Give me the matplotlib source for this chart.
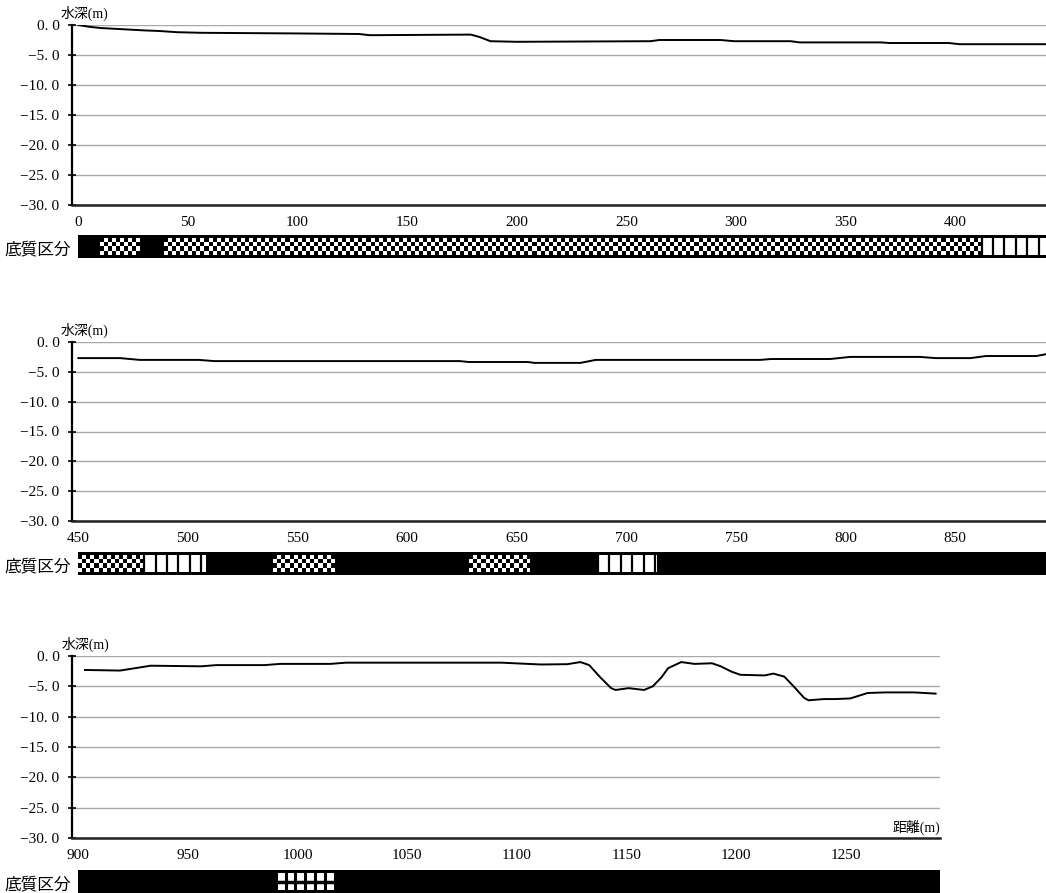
import numpy as np
import matplotlib.pyplot as plt
from matplotlib.patches import Rectangle
from matplotlib.ticker import FuncFormatter, MultipleLocator

plt.rcParams['font.family'] = ['Liberation Serif', 'Noto Sans CJK JP']

# --- profile data (distance m, depth m) ---
dist1 = [0, 5, 10, 20, 30, 37, 45, 56, 97, 128, 133, 179, 183, 188, 200, 261, 265, 293, 299, 325, 329, 366, 370, 397, 402, 442]
depth1 = [0, -0.3, -0.5, -0.7, -0.9, -1.0, -1.2, -1.3, -1.4, -1.5, -1.7, -1.6, -2.0, -2.7, -2.8, -2.7, -2.5, -2.5, -2.7, -2.7, -2.9, -2.9, -3.0, -3.0, -3.2, -3.2]

dist2 = [450, 469, 478, 505, 512, 624, 628, 655, 658, 679, 686, 761, 766, 793, 802, 834, 841, 857, 864, 887, 892]
depth2 = [-2.7, -2.7, -3.0, -3.0, -3.2, -3.2, -3.35, -3.35, -3.5, -3.5, -3.0, -3.0, -2.85, -2.85, -2.5, -2.5, -2.7, -2.7, -2.35, -2.35, -2.0]

dist3 = [903, 919, 926, 933, 956, 963, 985, 992, 1015, 1022, 1093, 1111, 1123, 1129, 1133, 1138, 1143, 1145, 1151, 1158, 1162,
         1166, 1169, 1175, 1181, 1189, 1193, 1198, 1202, 1213, 1217, 1222, 1227, 1231, 1233, 1240, 1245, 1252, 1260, 1268, 1281, 1291]
depth3 = [-2.3, -2.4, -2.0, -1.6, -1.7, -1.5, -1.5, -1.3, -1.3, -1.1, -1.1, -1.4, -1.35, -1.0, -1.5, -3.5, -5.3, -5.6, -5.3, -5.6, -5.0,
          -3.5, -2.0, -1.0, -1.3, -1.2, -1.7, -2.6, -3.1, -3.2, -2.9, -3.4, -5.3, -6.9, -7.3, -7.1, -7.1, -7.0, -6.1, -6.0, -6.0, -6.2]

# --- sediment classes (start, end, kind) ---
sed1_start = [0, 10, 28, 39, 412]
sed1_end = [10, 28, 39, 412, 442]
sed1_kind = ['solid', 'checker', 'solid', 'checker', 'stripe']

sed2_start = [450, 480, 508, 539, 567, 628, 656, 687, 714]
sed2_end = [480, 508, 539, 567, 628, 656, 687, 714, 892]
sed2_kind = ['checker', 'stripe', 'solid', 'checker', 'solid', 'checker', 'solid', 'stripe', 'solid']

sed3_start = [900, 990, 1017]
sed3_end = [990, 1017, 1293]
sed3_kind = ['solid', 'grid', 'solid']

W, H = 1046, 893
fig = plt.figure(figsize=(W / 100, H / 100), dpi=100)


def px_axes(left, top, right, bottom):
    return fig.add_axes([left / W, 1 - bottom / H, (right - left) / W, (bottom - top) / H])


def yfmt(v, pos):
    s = f"{v:.1f}".replace('.', '. ')
    return s.replace('-', '\u2212')


def profile(ax, d, z, xlim, xticks):
    ax.plot(d, z, color='black', lw=1.4, clip_on=True)
    ax.set_xlim(*xlim)
    ax.set_ylim(-30, 0)
    ax.yaxis.set_major_locator(MultipleLocator(5))
    ax.yaxis.set_major_formatter(FuncFormatter(yfmt))
    ax.set_xticks(xticks)
    ax.grid(axis='y', color='#a8a8a8', lw=1)
    for s in ['top', 'right']:
        ax.spines[s].set_visible(False)
    ax.spines['left'].set_linewidth(1.6)
    ax.spines['bottom'].set_linewidth(1.8)
    ax.spines['bottom'].set_color('#222222')
    ax.tick_params(axis='y', direction='inout', length=6, width=1.2, labelsize=11, pad=6)
    ax.tick_params(axis='x', length=0, labelsize=11, pad=8)
    ax.text(-0.012, 1.02, '水深(m)', transform=ax.transAxes, fontsize=10, ha='left', va='bottom')


def strip(ax, starts, ends, kinds, xlim):
    y0, y1 = 0.14, 0.86
    for a, b, k in zip(starts, ends, kinds):
        if k == 'solid':
            ax.add_patch(Rectangle((a, 0), b - a, 1, color='black', lw=0))
        elif k == 'checker':
            ncol = max(2, int(round((b - a) / 1.85)))
            arr = np.add.outer(np.arange(4), np.arange(ncol)) % 2
            ax.imshow(arr, cmap='gray', vmin=0, vmax=1, extent=(a, b, y0, y1),
                      interpolation='nearest', aspect='auto')
        elif k == 'stripe':
            ax.add_patch(Rectangle((a, 0), b - a, 1, color='white', lw=0))
            ax.vlines(np.arange(a, b + 0.1, 5.2), 0, 1, color='black', lw=1.6)
        elif k == 'grid':
            ax.add_patch(Rectangle((a, 0), b - a, 1, color='white', lw=0))
            ax.vlines(np.arange(a, b + 0.1, (b - a) / 6), 0, 1, color='black', lw=2.2)
            ax.hlines([0.5], a, b, color='black', lw=2.5)
    ax.add_patch(Rectangle((starts[0], 0), ends[-1] - starts[0], y0, color='black', lw=0))
    ax.add_patch(Rectangle((starts[0], y1), ends[-1] - starts[0], 1 - y1, color='black', lw=0))
    ax.set_xlim(*xlim)
    ax.set_ylim(0, 1)
    ax.axis('off')
    ax.text(-0.001, 0.0, '底質区分', transform=ax.transAxes, fontsize=12, ha='right', va='bottom')


# panel 1
ax1 = px_axes(72, 25, 1046, 205)
profile(ax1, dist1, depth1, (-2.9, 441.4), range(0, 401, 50))
s1 = px_axes(72, 235, 1046, 258)
strip(s1, sed1_start, sed1_end, sed1_kind, (-2.9, 441.4))

# panel 2
ax2 = px_axes(72, 342, 1046, 521)
profile(ax2, dist2, depth2, (447.1, 891.4), range(450, 851, 50))
s2 = px_axes(72, 552, 1046, 575)
strip(s2, sed2_start, sed2_end, sed2_kind, (447.1, 891.4))

# panel 3
ax3 = px_axes(72, 656, 940, 838)
profile(ax3, dist3, depth3, (897.1, 1293), range(900, 1251, 50))
ax3.text(1.0, 0.015, '距離(m)', transform=ax3.transAxes, fontsize=10, ha='right', va='bottom')
s3 = px_axes(72, 870, 940, 893)
strip(s3, sed3_start, sed3_end, sed3_kind, (897.1, 1293))

fig.savefig('out.png', dpi=100)
